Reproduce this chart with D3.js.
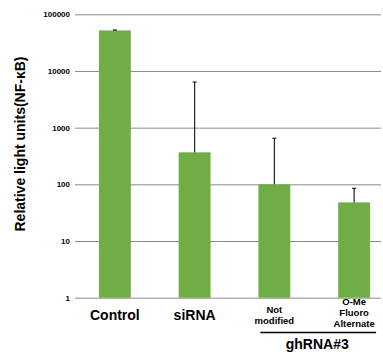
<!DOCTYPE html>
<html>
<head>
<meta charset="utf-8">
<script src="https://cdn.jsdelivr.net/npm/d3@7"></script>
<style>
  html, body { margin: 0; padding: 0; background: #fff; }
  svg { display: block; font-family: "Liberation Sans", Arial, Helvetica, sans-serif; }
</style>
</head>
<body>
<svg id="chart" width="383" height="354"></svg>
<script>
// Luciferase reporter readout per treatment group
const categories = ["Control", "siRNA", "Not modified", "O-Me Fluoro Alternate"];
const categoryLines = [["Control"], ["siRNA"], ["Not", "modified"], ["O-Me", "Fluoro", "Alternate"]];
const values = [52000, 367, 100, 48];
const errorTops = [53000, 6370, 650, 85];
const tickValues = [1, 10, 100, 1000, 10000, 100000];
const yTitle = "Relative light units(NF-κB)";
const groupLabel = "ghRNA#3";
const groupMembers = ["Not modified", "O-Me Fluoro Alternate"];

const svg = d3.select("#chart");
const plotLeft = 75, plotRight = 394, gridRight = 381;
const plotTop = 14.3, plotBottom = 297.7;

const y = d3.scaleLog().domain([1, 100000]).range([plotBottom, plotTop]);
const x = d3.scaleBand().domain(categories).range([plotLeft, plotRight])
  .paddingInner(0.6).paddingOuter(0.3);

// Gridlines + tick labels
const yAxis = d3.axisLeft(y)
  .tickValues(tickValues)
  .tickFormat(d3.format("d"))
  .tickSizeInner(-(gridRight - plotLeft))
  .tickSizeOuter(0)
  .tickPadding(5);

const ga = svg.append("g").attr("transform", `translate(${plotLeft},0)`).call(yAxis);
ga.select(".domain").remove();
ga.selectAll(".tick line").attr("stroke", "#8a8a8a").attr("stroke-width", 1);
ga.selectAll(".tick text")
  .attr("fill", "#000")
  .attr("font-size", "8px")
  .attr("font-weight", "bold")
  .attr("x", -5);

// Bars
svg.append("g").selectAll("rect")
  .data(categories)
  .join("rect")
  .attr("x", d => x(d))
  .attr("width", x.bandwidth())
  .attr("y", (d, i) => y(values[i]))
  .attr("height", (d, i) => y(1) - y(values[i]))
  .attr("fill", "#71ad47");

// Upper error bars
const eb = svg.append("g").attr("stroke", "#222").attr("stroke-width", 1.2);
categories.forEach((c, i) => {
  const cx = x(c) + x.bandwidth() / 2;
  eb.append("line").attr("x1", cx).attr("x2", cx)
    .attr("y1", y(values[i])).attr("y2", y(errorTops[i]));
  eb.append("line").attr("x1", cx - 2).attr("x2", cx + 2)
    .attr("y1", y(errorTops[i])).attr("y2", y(errorTops[i]));
});

// Category labels
const labelBottom = [320, 320, 324, 327];
categories.forEach((c, i) => {
  const lines = categoryLines[i];
  const cx = x(c) + x.bandwidth() / 2;
  const big = lines.length === 1;
  const fs = big ? 14 : 9.5;
  const lh = big ? 0 : 10.8;
  const t = svg.append("text")
    .attr("text-anchor", "middle")
    .attr("font-weight", "bold")
    .attr("font-size", fs + "px")
    .attr("fill", "#000");
  lines.forEach((ln, k) => {
    t.append("tspan")
      .attr("x", cx)
      .attr("y", labelBottom[i] - (lines.length - 1 - k) * lh)
      .text(ln);
  });
});

// Group bracket under the ghRNA#3 variants
const g0 = x(groupMembers[0]), g1 = x(groupMembers[1]) + x.bandwidth();
svg.append("line")
  .attr("x1", g0 + 2).attr("x2", g1 + 6)
  .attr("y1", 332.5).attr("y2", 332.5)
  .attr("stroke", "#000").attr("stroke-width", 1.5);
svg.append("text")
  .attr("x", (g0 + g1) / 2 + 3)
  .attr("y", 349)
  .attr("text-anchor", "middle")
  .attr("font-weight", "bold")
  .attr("font-size", "14px")
  .attr("fill", "#000")
  .text(groupLabel);

// Y-axis title
svg.append("text")
  .attr("transform", "translate(25,144) rotate(-90)")
  .attr("text-anchor", "middle")
  .attr("font-weight", "bold")
  .attr("font-size", "14px")
  .attr("fill", "#000")
  .text(yTitle);
</script>
</body>
</html>
